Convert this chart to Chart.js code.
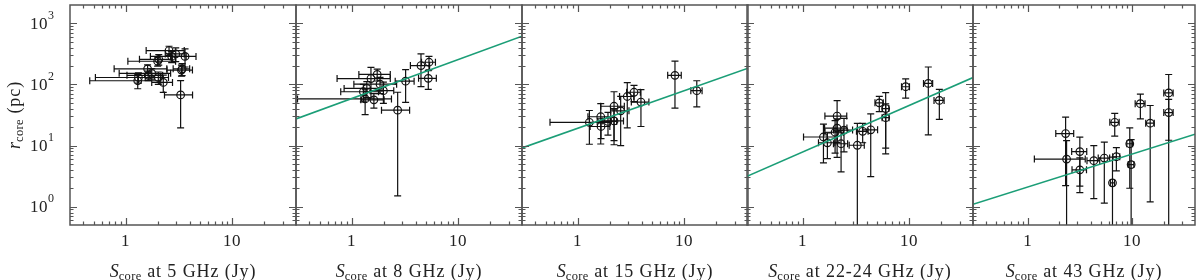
<!DOCTYPE html>
<html><head><meta charset="utf-8">
<script src="https://cdn.jsdelivr.net/npm/chart.js@4.4.1/dist/chart.umd.min.js"></script>
<style>
html,body{margin:0;padding:0;background:#fff;width:1200px;height:280px;overflow:hidden}
canvas{position:absolute;left:0;top:0}
</style></head><body>
<script>
// ---------------- data ----------------
const panelBands = ["5", "8", "15", "22-24", "43"];
const xTickValues = [1, 10];
const xTickLabels = ["1", "10"];
const yTickValues = [1, 10, 100, 1000];
const yTickExponents = ["0", "1", "2", "3"];

// 5 GHz
const S5    = [2.56, 2.96, 2.71, 3.62, 2.00, 2.05, 3.35, 3.40, 1.61, 1.76, 1.63, 1.32, 2.03, 1.30, 2.26, 3.29];
const S5err = [1.00, 0.60, 1.00, 0.97, 0.95, 0.70, 0.90, 0.60, 0.83, 0.89, 0.60, 0.80, 0.50, 0.84, 0.50, 0.97];
const R5    = [359, 316, 288, 288, 240, 258, 172, 180, 180, 152, 141, 130, 130, 115, 108, 67.5];
const R5err = [63, 80, 60, 95, 40, 50, 35, 40, 30, 30, 25, 25, 30, 30, 34, 48];

// 8 GHz
const S8    = [4.49, 5.34, 5.26, 3.22, 2.71, 1.52, 1.74, 1.85, 1.39, 1.99, 1.34, 1.62, 1.29];
const S8err = [0.92, 0.80, 1.00, 0.65, 0.80, 0.79, 0.57, 0.80, 0.54, 0.50, 1.03, 0.40, 0.50];
const R8    = [204, 231, 126, 113, 38, 125, 146, 101, 86, 79, 58, 56, 76];
const R8err = [112, 57, 43, 62, 36.5, 65, 32, 30, 25, 30, 26, 15, 24];
const fit8S = [0.3, 40];
const fit8R = [27.3, 617];

// 15 GHz
const S15    = [8.23, 13.2, 3.39, 2.93, 3.94, 2.20, 2.54, 1.65, 1.29, 1.66, 2.20, 1.93];
const S15err = [1.20, 1.60, 0.50, 0.45, 0.74, 0.55, 0.50, 0.40, 0.74, 0.35, 0.50, 0.40];
const R15    = [141, 79, 74.5, 63.5, 51.5, 44, 37, 29.6, 24, 20.5, 25.3, 24.8];
const R15err = [100, 36, 22, 44, 31, 32, 27, 19, 13.5, 7.5, 15, 10];
const fit15S = [0.3, 40];
const fit15R = [9.15, 185];

// 22-24 GHz
const S22    = [9.31, 15.2, 19.3, 5.26, 6.04, 6.04, 4.37, 3.67, 3.27, 2.11, 2.11, 2.02, 2.45, 2.30, 1.57, 1.71];
const S22err = [0.80, 1.50, 2.10, 0.47, 0.43, 0.45, 0.70, 0.46, 0.53, 0.49, 0.50, 0.40, 0.50, 0.35, 0.55, 0.30];
const R22    = [91.8, 104, 54.8, 50, 40.3, 28.6, 18.1, 17.1, 10.1, 30.4, 19.3, 16.5, 17.9, 10.7, 13.8, 11.1];
const R22err = [32, 89, 28, 14, 33, 19.5, 15, 6, 13, 24, 8, 9, 10, 7, 8.6, 5];
const fit22S = [0.3, 40];
const fit22R = [3.13, 130];

// 43 GHz
const S43    = [22.4, 22.4, 12.0, 14.9, 6.82, 9.50, 9.79, 7.07, 6.49, 5.42, 4.30, 3.16, 3.16, 2.31, 2.36];
const S43err = [2.30, 2.30, 1.30, 1.40, 0.70, 0.60, 0.60, 0.55, 0.30, 0.68, 0.60, 0.52, 0.50, 0.45, 1.20];
const R43    = [72.6, 34.7, 48.4, 23.2, 24, 10.7, 4.87, 6.55, 2.45, 6.24, 5.65, 7.96, 4.0, 15.7, 6.0];
const R43err = [73, 22.5, 21, 22, 9.7, 8.7, 7.6, 2.7, 4, 5.1, 4.3, 5.8, 2.3, 13.5, 6];
const fit43S = [0.3, 40];
const fit43R = [1.09, 15.3];

// ---------------- layout / style ----------------
const PANEL_LEFTS = [70, 296, 522, 747, 973];
const PANEL_W = 226;
const PLOT_TOP = 1, PLOT_BOTTOM = 225;
const GREEN = '#1b9e77';
const FRAME = '#555555';
const SERIF = '"Liberation Serif", "DejaVu Serif", serif';

const panels = [
  {band: panelBands[0], s: S5,  se: S5err,  r: R5,  re: R5err,  fs: null,   fr: null},
  {band: panelBands[1], s: S8,  se: S8err,  r: R8,  re: R8err,  fs: fit8S,  fr: fit8R},
  {band: panelBands[2], s: S15, se: S15err, r: R15, re: R15err, fs: fit15S, fr: fit15R},
  {band: panelBands[3], s: S22, se: S22err, r: R22, re: R22err, fs: fit22S, fr: fit22R},
  {band: panelBands[4], s: S43, se: S43err, r: R43, re: R43err, fs: fit43S, fr: fit43R}
];

function drawRich(ctx, parts, x, y, align) {
  let total = 0;
  parts.forEach(p => { ctx.font = p.font; ctx.letterSpacing = (p.ls || 0) + 'px'; p.w = ctx.measureText(p.t).width; total += p.w; });
  let cx = align === 'center' ? x - total / 2 : (align === 'right' ? x - total : x);
  parts.forEach(p => {
    ctx.font = p.font; ctx.letterSpacing = (p.ls || 0) + 'px';
    ctx.textAlign = 'left'; ctx.textBaseline = 'alphabetic';
    ctx.fillText(p.t, cx, y + (p.dy || 0));
    cx += p.w;
  });
  ctx.letterSpacing = '0px';
}

const errorBarPlugin = {
  id: 'errorBars',
  beforeDatasetsDraw(chart) {
    const ds = chart.data.datasets.find(d => d.errX);
    if (!ds) return;
    const xs = chart.scales.x, ys = chart.scales.y, a = chart.chartArea;
    const ctx = chart.ctx;
    ctx.save();
    ctx.beginPath(); ctx.rect(a.left, a.top, a.right - a.left, a.bottom - a.top); ctx.clip();
    ctx.strokeStyle = '#111'; ctx.lineWidth = 1.2;
    const cap = 3.5;
    ds.data.forEach((p, i) => {
      const px = xs.getPixelForValue(p.x), py = ys.getPixelForValue(p.y);
      const ex = ds.errX[i], ey = ds.errY[i];
      const xlo = p.x - ex, xhi = p.x + ex, ylo = p.y - ey, yhi = p.y + ey;
      const pxl = xlo > xs.min ? xs.getPixelForValue(xlo) : a.left - 5;
      const pxh = xs.getPixelForValue(xhi);
      const pyl = ylo > ys.min ? ys.getPixelForValue(ylo) : a.bottom + 5;
      const pyh = ys.getPixelForValue(yhi);
      ctx.beginPath();
      ctx.moveTo(pxl, py); ctx.lineTo(pxh, py);
      ctx.moveTo(px, pyl); ctx.lineTo(px, pyh);
      ctx.moveTo(pxl, py - cap); ctx.lineTo(pxl, py + cap);
      ctx.moveTo(pxh, py - cap); ctx.lineTo(pxh, py + cap);
      ctx.moveTo(px - cap, pyl); ctx.lineTo(px + cap, pyl);
      ctx.moveTo(px - cap, pyh); ctx.lineTo(px + cap, pyh);
      ctx.stroke();
    });
    ctx.restore();
  }
};

function minorList(min, max) {
  const out = [];
  for (let e = -3; e <= 4; e++) {
    for (let m = 1; m <= 9; m++) {
      const v = m * Math.pow(10, e);
      if (v > min * 1.0001 && v < max * 0.9999) out.push({v, major: m === 1});
    }
  }
  return out;
}

function makeFramePlugin(idx) {
  return {
    id: 'frame' + idx,
    afterDraw(chart) {
      const xs = chart.scales.x, ys = chart.scales.y, a = chart.chartArea;
      const ctx = chart.ctx;
      ctx.save();
      ctx.strokeStyle = FRAME; ctx.lineWidth = 1.2;
      const MAJ = 7, MIN = 3.5;
      ctx.beginPath();
      minorList(xs.min, xs.max).forEach(t => {
        const px = Math.round(xs.getPixelForValue(t.v)) + 0.5;
        const L = t.major ? MAJ : MIN;
        ctx.moveTo(px, a.bottom); ctx.lineTo(px, a.bottom - L);
        ctx.moveTo(px, a.top); ctx.lineTo(px, a.top + L);
      });
      minorList(ys.min, ys.max).forEach(t => {
        const py = Math.round(ys.getPixelForValue(t.v)) + 0.5;
        const L = t.major ? MAJ : MIN;
        ctx.moveTo(a.left, py); ctx.lineTo(a.left + L, py);
        ctx.moveTo(a.right, py); ctx.lineTo(a.right - L, py);
      });
      ctx.stroke();
      ctx.lineWidth = 1.5;
      ctx.strokeRect(a.left, a.top, a.right - a.left, a.bottom - a.top);

      ctx.fillStyle = '#222';
      // x tick labels
      xTickValues.forEach((v, k) => {
        const px = xs.getPixelForValue(v);
        drawRich(ctx, [{t: xTickLabels[k], font: '17px ' + SERIF, ls: 0.5}], px, 246, 'center');
      });
      // x title
      const cxm = (a.left + a.right) / 2;
      drawRich(ctx, [
        {t: 'S', font: 'italic 18px ' + SERIF},
        {t: 'core', font: '12.5px ' + SERIF, dy: 3, ls: 0.4},
        {t: ' at ' + panels[idx].band + ' GHz (Jy)', font: '18px ' + SERIF, ls: 0.9}
      ], cxm, 277, 'center');

      if (idx === 0) {
        yTickValues.forEach((v, k) => {
          const py = ys.getPixelForValue(v);
          drawRich(ctx, [
            {t: '10', font: '17px ' + SERIF, ls: 0.5},
            {t: yTickExponents[k], font: '12px ' + SERIF, dy: -10}
          ], 54, py + 5.5, 'right');
        });
        ctx.save();
        ctx.translate(20, 115);
        ctx.rotate(-Math.PI / 2);
        drawRich(ctx, [
          {t: 'r', font: 'italic 18px ' + SERIF},
          {t: 'core', font: '12.5px ' + SERIF, dy: 3, ls: 0.4},
          {t: ' (pc)', font: '18px ' + SERIF, ls: 0.9}
        ], 0, 0, 'center');
        ctx.restore();
      }
      ctx.restore();
    }
  };
}

panels.forEach((p, idx) => {
  const cv = document.createElement('canvas');
  cv.width = 1200; cv.height = 280;
  cv.style.width = '1200px'; cv.style.height = '280px';
  document.body.appendChild(cv);
  const L = PANEL_LEFTS[idx];
  const pts = p.s.map((v, i) => ({x: v, y: p.r[i]}));
  const datasets = [];
  if (p.fs) {
    datasets.push({type: 'line', data: p.fs.map((v, i) => ({x: v, y: p.fr[i]})),
      borderColor: GREEN, borderWidth: 1.6, pointRadius: 0, fill: false, order: 1});
  }
  datasets.push({type: 'scatter', data: pts, errX: p.se, errY: p.re,
    pointRadius: 3.8, pointHoverRadius: 3.8, borderColor: '#111', borderWidth: 1.2,
    backgroundColor: 'rgba(0,0,0,0)', order: 2});
  new Chart(cv, {
    type: 'scatter',
    data: {datasets},
    options: {
      responsive: false, animation: false, devicePixelRatio: 1, events: [],
      layout: {padding: {left: L, right: 1200 - L - PANEL_W, top: PLOT_TOP, bottom: 280 - PLOT_BOTTOM}},
      plugins: {legend: {display: false}, tooltip: {enabled: false}},
      scales: {
        x: {type: 'logarithmic', min: 0.3, max: 40, display: false},
        y: {type: 'logarithmic', min: 0.5, max: 2000, display: false}
      }
    },
    plugins: [errorBarPlugin, makeFramePlugin(idx)]
  });
});
</script>
</body></html>
